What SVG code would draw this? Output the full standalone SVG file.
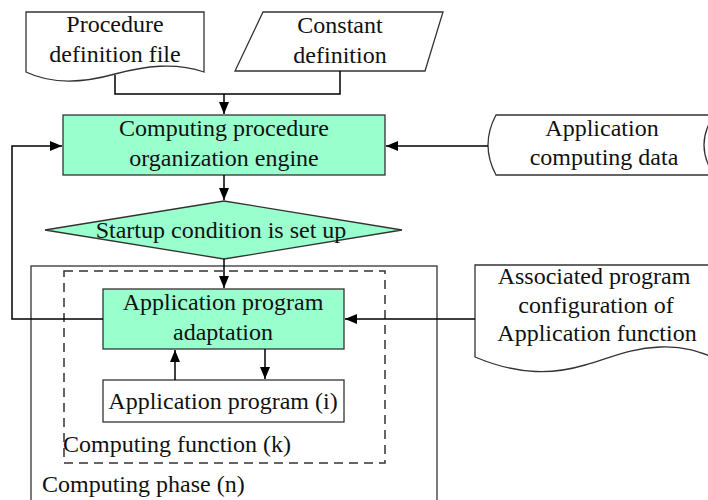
<svg xmlns="http://www.w3.org/2000/svg" width="708" height="500" viewBox="0 0 708 500">
<defs>
<style>
text{font-family:"Liberation Serif","Times New Roman",serif;font-size:24px;fill:#111;}
.c{text-anchor:middle;}
.sh{fill:#fff;stroke:#333;stroke-width:1.3;}
.g{fill:#99FFCC;stroke:#333;stroke-width:1.3;}
.ln{fill:none;stroke:#000;stroke-width:1.5;}
.ds{fill:none;stroke:#333;stroke-width:1.5;stroke-dasharray:9,6;}
</style>
<marker id="ah" viewBox="0 0 12 10" refX="12" refY="5" markerWidth="12" markerHeight="10" markerUnits="userSpaceOnUse" orient="auto">
<path d="M0,0 L12,5 L0,10 Z" fill="#000"/>
</marker>
</defs>
<g id="phase">
<rect x="31" y="266" width="406" height="260" fill="none" stroke="#333" stroke-width="1.3"/>
<text x="42" y="492">Computing phase (n)</text>
</g>
<g id="function">
<rect x="64" y="271" width="321" height="192" class="ds"/>
<text x="63" y="452">Computing function (k)</text>
</g>
<g id="procfile">
<path class="sh" d="M26,12 H204 V72 C175,62 145,66 115,74 C90,81 55,86 26,72 Z"/>
<text class="c" x="115" y="32">Procedure</text>
<text class="c" x="115" y="62">definition file</text>
</g>
<g id="constdef">
<path class="sh" d="M263,12 H443 L425,71 H235 Z"/>
<text class="c" x="340" y="33">Constant</text>
<text class="c" x="340" y="63">definition</text>
</g>
<g id="engine">
<rect class="g" x="63" y="115" width="322" height="60"/>
<text class="c" x="224" y="136">Computing procedure</text>
<text class="c" x="224" y="166">organization engine</text>
</g>
<g id="appdata">
<path class="sh" d="M496,115 H714 Q694,145 714,175 H496 Q480,145 496,115 Z"/>
<text class="c" x="602" y="136">Application</text>
<text class="c" x="604" y="165">computing data</text>
</g>
<g id="startup">
<path class="g" d="M45,230 L224,201 L402,230 L224,259 Z"/>
<text class="c" x="221" y="238">Startup condition is set up</text>
</g>
<g id="adaptation">
<rect class="g" x="103" y="289" width="241" height="60"/>
<text class="c" x="223" y="310">Application program</text>
<text class="c" x="223" y="340">adaptation</text>
</g>
<g id="appprog">
<rect class="sh" x="103" y="380" width="241" height="42"/>
<text class="c" x="223" y="409">Application program (i)</text>
</g>
<g id="assoc">
<path class="sh" d="M475,265 H715 V358 C700,352 685,346 660,347 C630,348 610,358 585,365 C555,374 520,376 475,357 Z"/>
<text class="c" x="594" y="284">Associated program</text>
<text class="c" x="596" y="313">configuration of</text>
<text class="c" x="597" y="341">Application function</text>
</g>
<g id="connectors">
<path class="ln" d="M115,75 V94 H340 V71"/>
<path class="ln" d="M224,94 V114" marker-end="url(#ah)"/>
<path class="ln" d="M224,175 V200" marker-end="url(#ah)"/>
<path class="ln" d="M488,146 H386" marker-end="url(#ah)"/>
<path class="ln" d="M103,319 H12 V146 H62" marker-end="url(#ah)"/>
<path class="ln" d="M224,259 V288" marker-end="url(#ah)"/>
<path class="ln" d="M475,319 H345" marker-end="url(#ah)"/>
<path class="ln" d="M175,380 V350" marker-end="url(#ah)"/>
<path class="ln" d="M265,349 V379" marker-end="url(#ah)"/>
</g>
</svg>
